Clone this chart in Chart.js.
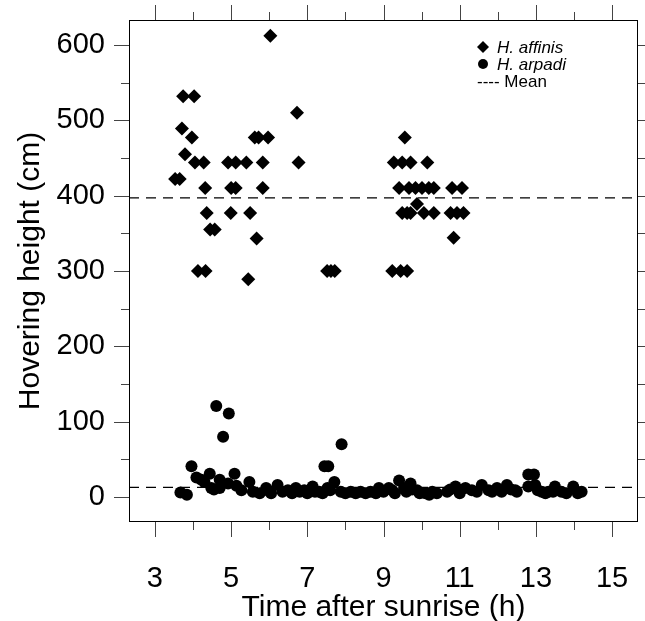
<!DOCTYPE html>
<html>
<head>
<meta charset="utf-8">
<script src="https://cdn.jsdelivr.net/npm/chart.js@4.4.0/dist/chart.umd.min.js"></script>
<style>
  html, body { margin: 0; padding: 0; background: #fff; }
  canvas { display: block; }
</style>
</head>
<body>
<canvas id="hoverChart" width="645" height="621"></canvas>
<script>
// H. affinis (diamonds)
const affinisTime = [
  6.03, 3.74, 4.03, 3.71, 3.97, 5.62, 5.72, 5.97, 6.73, 3.79,
  4.05, 4.28, 4.92, 5.12, 5.40, 5.83, 6.77, 3.53, 3.65, 4.32,
  5.00, 5.12, 5.83, 4.36, 4.99, 5.50, 4.45, 4.57, 5.67, 4.13,
  4.33, 5.45, 7.52, 7.62, 7.72,
  9.56, 9.27, 9.49, 9.71, 10.15, 9.41, 9.67, 9.84, 10.01, 10.19,
  10.32, 10.80, 11.06, 9.88, 9.49, 9.62, 9.71, 10.06, 10.32, 10.76,
  10.93, 11.10, 10.84, 9.23, 9.45, 9.62
]
const affinisHeight = [
  612, 532, 532, 489, 477, 477, 477, 477, 510, 455,
  444, 444, 444, 444, 444, 444, 444, 422, 422, 410,
  410, 410, 410, 377, 377, 377, 355, 355, 343, 300,
  300, 289, 300, 300, 300,
  477, 444, 444, 444, 444, 410, 410, 410, 410, 410,
  410, 410, 410, 389, 377, 377, 377, 377, 377, 377,
  377, 377, 344, 300, 300, 300
]

// H. arpadi (circles)
const arpadiTime = [
  3.67, 3.84, 3.96, 4.09, 4.22, 4.44, 4.48, 4.61, 4.70, 4.70,
  4.79, 4.92, 4.94, 5.09, 5.14, 5.27, 5.48, 5.57, 5.75, 5.92,
  4.30, 4.55,
  5.96, 6.22, 6.49, 6.70, 6.92, 7.14, 7.31, 7.45, 7.55, 7.53,
  7.71, 7.88, 7.90, 8.14, 8.40, 8.66, 8.88, 9.14,
  6.05, 6.35, 6.60, 6.80, 7.00, 7.20, 7.40, 7.60, 8.00, 8.27,
  8.53, 8.80, 9.00,
  9.23, 9.41, 9.54, 9.71, 9.88, 10.10, 10.28, 10.67, 10.89, 11.15,
  11.32, 11.58, 11.76, 11.98, 12.24, 12.46,
  9.30, 9.60, 9.75, 9.95, 10.20, 10.40, 10.75, 11.00, 11.45, 11.85,
  12.10, 12.35,
  12.50, 12.80, 12.95, 12.80, 12.98, 13.15, 13.33, 13.50, 13.67, 13.98,
  14.20, 13.05, 13.25, 13.45, 13.80, 14.10
]
const arpadiHeight = [
  6, 3, 41, 26, 23, 31, 12, 121, 23, 12,
  80, 18, 111, 31, 15, 9, 20, 7, 5, 12,
  20, 10,
  9, 16, 9, 12, 9, 14, 7, 41, 41, 12,
  20, 7, 70, 7, 7, 7, 12, 12,
  5, 7, 5, 7, 5, 7, 5, 9, 5, 5,
  5, 5, 7,
  9, 22, 12, 18, 9, 5, 7, 7, 14, 12,
  9, 16, 9, 12, 16, 9,
  5, 7, 10, 5, 3, 5, 10, 5, 7, 7,
  7, 10,
  7, 30, 30, 14, 16, 7, 7, 14, 7, 14,
  7, 9, 5, 7, 5, 5
]

const meanAffinis = 397
const meanArpadi = 13

const xTicks = [3, 5, 7, 9, 11, 13, 15]
const xMinor = [4, 6, 8, 10, 12, 14]
const yTicks = [0, 100, 200, 300, 400, 500, 600]
const yMinor = [50, 150, 250, 350, 450, 550]
const xRange = [2.32, 15.68]
const yRange = [-33, 633]

const FONT = "'Liberation Sans', Arial, sans-serif"

function toPoints(xs, ys) {
  return xs.map((x, i) => ({ x: x, y: ys[i] }))
}

// frame, outward ticks on all four sides, and the key
const framePlugin = {
  id: 'framePlugin',
  afterDraw(chart) {
    const ctx = chart.ctx
    const a = chart.chartArea
    const xs = chart.scales.x
    const ys = chart.scales.y
    ctx.save()
    ctx.strokeStyle = '#000'
    ctx.lineWidth = 1
    ctx.strokeRect(a.left + 0.5, a.top + 0.5, a.right - a.left - 1, a.bottom - a.top - 1)

    ctx.strokeStyle = '#444'
    ctx.beginPath()
    const tickX = (v, len) => {
      const px = Math.round(xs.getPixelForValue(v)) + 0.5
      ctx.moveTo(px, a.bottom); ctx.lineTo(px, a.bottom + len)
      ctx.moveTo(px, a.top); ctx.lineTo(px, a.top - len)
    }
    const tickY = (v, len) => {
      const py = Math.round(ys.getPixelForValue(v)) + 0.5
      ctx.moveTo(a.left, py); ctx.lineTo(a.left - len, py)
      ctx.moveTo(a.right, py); ctx.lineTo(a.right + len, py)
    }
    xTicks.forEach(v => tickX(v, 15))
    xMinor.forEach(v => tickX(v, 8))
    yTicks.forEach(v => tickY(v, 15))
    yMinor.forEach(v => tickY(v, 8))
    ctx.stroke()

    // key
    ctx.fillStyle = '#000'
    ctx.beginPath()
    ctx.moveTo(477, 47); ctx.lineTo(483, 41); ctx.lineTo(489, 47); ctx.lineTo(483, 53)
    ctx.closePath()
    ctx.fill()
    ctx.beginPath()
    ctx.arc(483, 64, 5, 0, Math.PI * 2)
    ctx.fill()
    ctx.textBaseline = 'middle'
    ctx.textAlign = 'left'
    ctx.font = 'italic 17px ' + FONT
    ctx.fillText('H. affinis', 497, 48)
    ctx.fillText('H. arpadi', 497, 65)
    ctx.font = '17px ' + FONT
    ctx.fillText('---- Mean', 477, 82)
    ctx.restore()
  }
}

const ctx = document.getElementById('hoverChart')

new Chart(ctx, {
  type: 'scatter',
  data: {
    datasets: [
      {
        label: 'H. affinis',
        data: toPoints(affinisTime, affinisHeight),
        pointStyle: 'rectRot',
        pointRadius: 7,
        backgroundColor: '#000',
        borderWidth: 0,
      },
      {
        label: 'H. arpadi',
        data: toPoints(arpadiTime, arpadiHeight),
        pointStyle: 'circle',
        pointRadius: 6,
        backgroundColor: '#000',
        borderWidth: 0,
      },
      {
        label: 'Mean H. affinis',
        data: [{ x: xRange[0], y: meanAffinis }, { x: xRange[1], y: meanAffinis }],
        showLine: true,
        borderColor: '#000',
        borderWidth: 1.3,
        borderDash: [10, 7],
        pointRadius: 0,
      },
      {
        label: 'Mean H. arpadi',
        data: [{ x: xRange[0], y: meanArpadi }, { x: xRange[1], y: meanArpadi }],
        showLine: true,
        borderColor: '#000',
        borderWidth: 1.3,
        borderDash: [10, 7],
        pointRadius: 0,
      },
    ],
  },
  options: {
    responsive: false,
    animation: false,
    devicePixelRatio: 1,
    layout: { padding: { top: 20, right: 5, left: 0, bottom: 0 } },
    plugins: {
      legend: { display: false },
      tooltip: { enabled: false },
    },
    scales: {
      x: {
        type: 'linear',
        min: xRange[0],
        max: xRange[1],
        afterBuildTicks: (scale) => { scale.ticks = xTicks.map(v => ({ value: v })) },
        afterFit: (scale) => {
          scale.height = 99
          scale.paddingLeft = 0
          scale.paddingRight = 0
        },
        grid: { display: false, drawTicks: false },
        border: { display: false },
        ticks: {
          color: '#000',
          padding: 40,
          font: { family: FONT, size: 29 },
        },
        title: {
          display: true,
          text: 'Time after sunrise (h)',
          color: '#000',
          font: { family: FONT, size: 30 },
          padding: { bottom: -5 },
        },
      },
      y: {
        type: 'linear',
        min: yRange[0],
        max: yRange[1],
        afterBuildTicks: (scale) => { scale.ticks = yTicks.map(v => ({ value: v })) },
        afterFit: (scale) => {
          scale.width = 129
          scale.paddingTop = 0
          scale.paddingBottom = 0
        },
        grid: { display: false, drawTicks: false },
        border: { display: false },
        ticks: {
          color: '#000',
          padding: 24,
          font: { family: FONT, size: 29 },
        },
        title: {
          display: true,
          text: 'Hovering height (cm)',
          color: '#000',
          font: { family: FONT, size: 30 },
          padding: { top: 13 },
        },
      },
    },
  },
  plugins: [framePlugin],
})
</script>
</body>
</html>
